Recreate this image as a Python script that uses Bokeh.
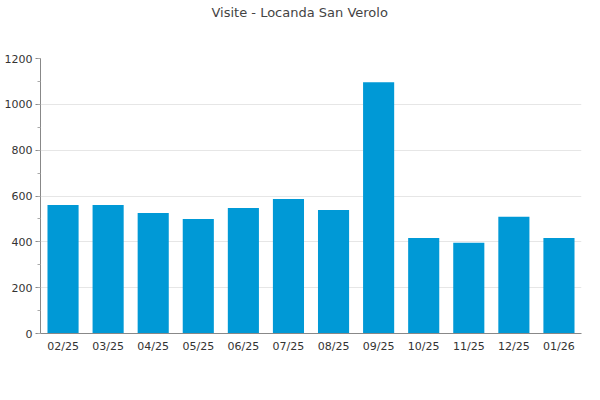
from bokeh.plotting import figure
from bokeh.models import Range1d, FactorRange, FixedTicker, Title
from bokeh.embed import file_html
from bokeh.resources import INLINE

months = ["02/25", "03/25", "04/25", "05/25", "06/25", "07/25",
          "08/25", "09/25", "10/25", "11/25", "12/25", "01/26"]
visits = [561, 561, 526, 500, 548, 587, 539, 1096, 417, 396, 509, 417]
y_ticks = [0, 200, 400, 600, 800, 1000, 1200]
title_text = "Visite - Locanda San Verolo"

FONT = "DejaVu Sans"

p = figure(width=584, height=384, output_backend="svg", toolbar_location=None,
           x_range=FactorRange(*months, range_padding=0), y_range=Range1d(0, 1200))
p.min_border_left = 40
p.min_border_right = 3
p.min_border_top = 57
p.min_border_bottom = 51
p.outline_line_color = None

p.vbar(x=months, top=visits, width=0.69, color="#0099d6", line_color=None)

# blank spacer next to the frame (white, so it keeps its size), real title above it
spacer = Title(text=" ", text_font_size="1px", standoff=34, text_color="#ffffff")
p.add_layout(spacer, "above")
title = Title(text=title_text, align="left", offset=171, standoff=4,
              text_font=FONT, text_font_size="13px", text_font_style="normal",
              text_color="#444444")
p.add_layout(title, "above")

p.yaxis.ticker = FixedTicker(ticks=y_ticks, minor_ticks=list(range(0, 1201, 100)))
p.yaxis.major_label_text_font = FONT
p.yaxis.major_label_text_font_size = "11px"
p.yaxis.major_label_text_color = "#333333"
p.yaxis.axis_line_color = "#888888"
p.yaxis.major_tick_line_color = "#888888"
p.yaxis.minor_tick_line_color = "#aaaaaa"
p.yaxis.major_tick_out = 5
p.yaxis.major_tick_in = 0
p.yaxis.minor_tick_out = 3
p.yaxis.minor_tick_in = 0
p.yaxis.major_label_standoff = 3

p.xaxis.major_label_text_font = FONT
p.xaxis.major_label_text_font_size = "11px"
p.xaxis.major_label_text_color = "#333333"
p.xaxis.axis_line_color = "#888888"
p.xaxis.major_tick_line_color = None
p.xaxis.minor_tick_line_color = None
p.xaxis.major_tick_out = 0
p.xaxis.major_tick_in = 0
p.xaxis.minor_tick_out = 0
p.xaxis.major_label_standoff = 6

p.xgrid.grid_line_color = None
p.ygrid.grid_line_color = "#e6e6e6"
p.ygrid.ticker = FixedTicker(ticks=y_ticks)

open("out.html", "w").write(file_html(p, INLINE))
